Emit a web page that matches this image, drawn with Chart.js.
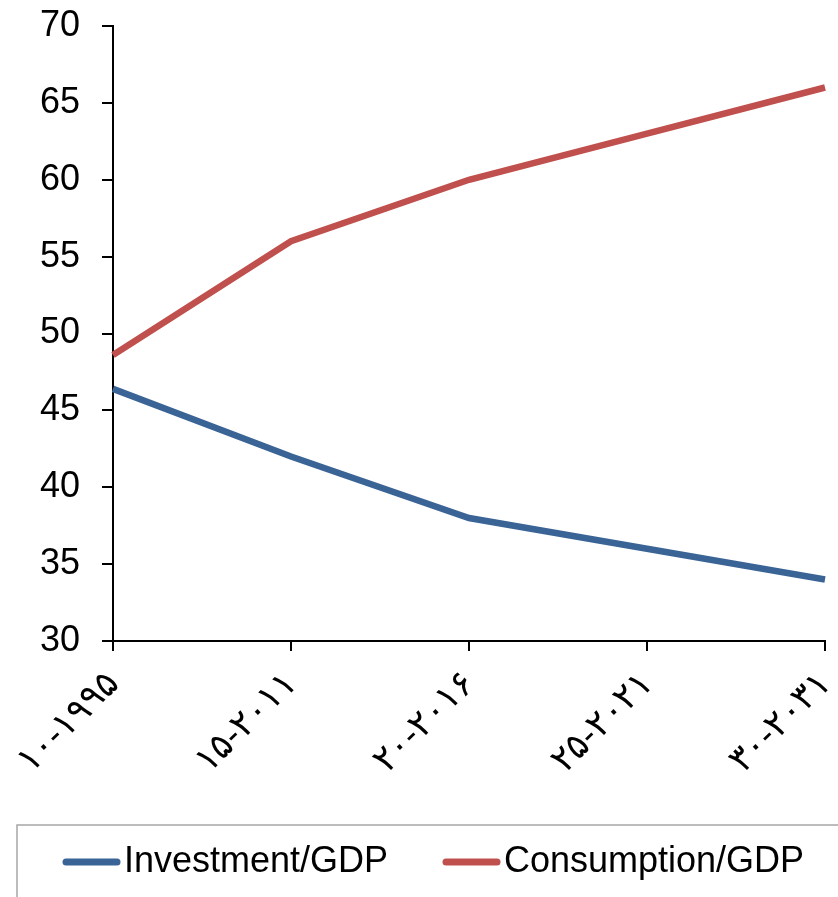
<!DOCTYPE html>
<html>
<head>
<meta charset="utf-8">
<script src="https://cdn.jsdelivr.net/npm/chart.js@4/dist/chart.umd.min.js"></script>
<style>
html,body{margin:0;padding:0;background:#fff;}
#wrap{width:838px;height:897px;position:relative;}
</style>
</head>
<body>
<div id="wrap"><canvas id="c" width="838" height="897"></canvas></div>
<script>
const categories = ["۱۰-۱۹۹۵", "۱۵-۲۰۱۱", "۲۰-۲۰۱۶", "۲۵-۲۰۲۱", "۳۰-۲۰۳۱"];
const investmentGDP = [46.4, 42, 38, 36, 34];
const consumptionGDP = [48.6, 56, 60, 63, 66];
const seriesNames = ["Investment/GDP", "Consumption/GDP"];
const yTicks = [30, 35, 40, 45, 50, 55, 60, 65, 70];

const FONT = "Arial, 'Liberation Sans', sans-serif";

const legendBox = {
  id: 'legendBox',
  afterDraw(chart) {
    const ctx = chart.ctx;
    ctx.save();
    ctx.strokeStyle = '#a6a6a6';
    ctx.lineWidth = 1.5;
    ctx.strokeRect(17, 825, 840, 90);
    const items = [{x: 63}, {x: 443}];
    chart.data.datasets.forEach((ds, i) => {
      const x0 = items[i].x;
      const y = 862;
      ctx.strokeStyle = ds.borderColor;
      ctx.lineWidth = 7;
      ctx.lineCap = 'round';
      ctx.beginPath();
      ctx.moveTo(x0 + 3, y);
      ctx.lineTo(x0 + 54, y);
      ctx.stroke();
      ctx.fillStyle = '#000';
      ctx.font = '36px ' + FONT;
      ctx.textBaseline = 'middle';
      ctx.textAlign = 'left';
      ctx.fillText(ds.label, x0 + 61, y);
    });
    ctx.restore();
  }
};

new Chart(document.getElementById('c'), {
  type: 'line',
  data: {
    labels: categories,
    datasets: [
      {label: seriesNames[0], data: investmentGDP, borderColor: '#3b6496', backgroundColor: '#3b6496',
       borderWidth: 6.5, pointRadius: 0, tension: 0, fill: false, borderCapStyle: 'butt'},
      {label: seriesNames[1], data: consumptionGDP, borderColor: '#c0504d', backgroundColor: '#c0504d',
       borderWidth: 6.5, pointRadius: 0, tension: 0, fill: false, borderCapStyle: 'butt'}
    ]
  },
  options: {
    responsive: false,
    animation: false,
    devicePixelRatio: 1,
    layout: {padding: {top: 26, right: 13, bottom: 86, left: 0}},
    plugins: {legend: {display: false}, tooltip: {enabled: false}},
    scales: {
      x: {
        offset: false,
        grid: {display: true, drawOnChartArea: false, drawTicks: true, tickLength: 10, color: '#000', lineWidth: 2},
        border: {display: true, color: '#000', width: 2},
        ticks: {color: '#000', font: {family: FONT, size: 36}, minRotation: 45, maxRotation: 45, padding: 12, autoSkip: false},
        afterFit(scale) { scale.height = 170; scale.paddingLeft = 0; scale.paddingRight = 0; }
      },
      y: {
        min: 30, max: 70,
        grid: {display: true, drawOnChartArea: false, drawTicks: true, tickLength: 11, color: '#000', lineWidth: 2},
        border: {display: true, color: '#000', width: 2},
        ticks: {color: '#000', font: {family: FONT, size: 36}, padding: 22, stepSize: 5,
                callback: (v) => yTicks.includes(v) ? String(v) : null},
        afterFit(scale) { scale.width = 113; scale.paddingTop = 0; scale.paddingBottom = 0; }
      }
    }
  },
  plugins: [legendBox]
});
</script>
</body>
</html>
